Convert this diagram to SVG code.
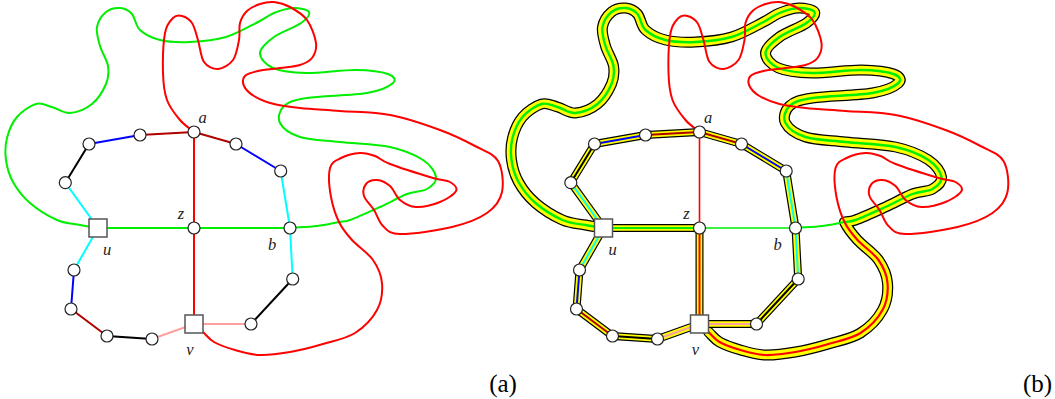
<svg xmlns="http://www.w3.org/2000/svg" xmlns:xlink="http://www.w3.org/1999/xlink" width="1055" height="399" viewBox="0 0 1055 399">
<style>
.ln{fill:none;stroke-width:2;stroke-linecap:round;stroke-linejoin:round}
.g{stroke:#00ee00}.r{stroke:#ff0000}.dr{stroke:#b00000}.bl{stroke:#0000ff}.cy{stroke:#00ffff}.k{stroke:#000}.pk{stroke:#ffa0a0}
.bo{fill:none;stroke:#000;stroke-linejoin:round;stroke-linecap:round}
.by{fill:none;stroke:#ffff00;stroke-linejoin:round;stroke-linecap:round}
.c{fill:#fff;stroke:#222;stroke-width:1.2}
.sq{fill:#fff;stroke:#555;stroke-width:1.5}
.lbl{font-family:"Liberation Serif",serif;font-style:italic;font-size:16.5px;fill:#222;text-anchor:middle}
.cap{font-family:"Liberation Serif",serif;font-size:25px;fill:#000;text-anchor:middle}
</style>
<defs>
<path id="gA" d="M98,228 C92,227 86.8,226.3 80,225 S65.3,223.7 57,220 S37.3,209.3 30,203 S17,189.2 13,182 S7,167.3 6,160 S5.2,145.2 7,138 S12.2,122.7 17,117 S30.2,105.7 36,104 S46.3,105.5 52,107 S63.3,113.5 70,113 S86,108.8 92,104 S103.3,90.3 106,84 S109,72.3 108,66 S101.8,52.5 100,46 S96,32.7 97,27 S102.2,15.2 106,12 S115.7,7.7 120,8 S128.7,10.3 132,14 S135.3,25.7 140,30 S151.7,38 160,40 S179,42.5 190,42 S214.7,40.3 226,37 S250,26 258,22 S268.2,15.3 274,13 S287.2,8.2 293,8 S307.7,9.5 309,12 S306.8,18.8 301,23 S280.8,32 274,37 S260.2,47.8 260,53 S265.3,64.7 273,68 S292.2,72.7 306,73 S342.3,69.8 356,70 S381.8,71.8 388,74 S396.5,79.8 393,83 S381.3,90.5 367,93 S320.8,95.8 307,98 S288.5,101.8 284,106 S277.3,117.8 280,123 S290,133.8 300,137 S325,140.3 340,142 S376.2,144 390,147 S415.3,155 423,160 S435.3,172.2 436,177 S431.8,186.2 427,189 S414.8,191 407,194 S389.5,202.7 380,207 S357,217.5 350,220 S343.5,221 339,222"/>
<path id="gB" d="M339,222 C334.5,223 325,225 317,226 S299,227.3 290,228"/>
<path id="rA" d="M194,132 C189.3,128 184.5,125.3 180,120 S169.8,107.8 167,100 S163.3,84.2 163,73 S163.3,42.2 165,33 S170.2,20.8 173,18 S178.8,15.2 182,16 S189.3,19 192,23 S196,33.5 198,40 S200.7,57.2 204,62 S213.2,69.3 218,69 S229.5,64.8 233,60 S237.8,46.2 239,40 S238.7,27.8 240,23 S243.7,14.2 247,11 S255.5,5.5 260,4 S269,1.5 274,2 S284.5,4 290,7 S302.7,14 307,20 S315.2,36.7 316,43 S314.7,54.3 312,58 S305.3,63.3 300,65 S287,67 280,68 S263.8,69.7 258,71 S247.3,73.5 245,76 S242.5,82.7 244,86 S249,93 254,96 S266.3,102 274,104 S289,106.8 300,108 S325,109.8 340,111 S373.3,111.8 390,115 S425.8,124.8 440,130 S465.3,140.8 475,146 S493.5,153.3 498,161 S503.8,183.3 502,192 S495.3,207.2 487,213 S466.5,223.5 452,227 S411.5,234.2 400,234 S387.3,230 383,226 S377.2,215 374,210 S365.3,200.3 364,196 S363.8,186.7 366,184 S373,179.7 377,180 S386.2,182.7 390,186 S395.7,196.5 400,200 S409.3,206.7 416,207 S433.3,204.7 440,202 S454.3,194.3 456,191 S453.8,184.2 450,182 S443,181 433,178 S399.7,167.7 390,164 S380,157.8 375,156 S365.7,152.7 360,153 S346,155.5 341,158 S331.7,161.5 330,168 S329.3,187.8 331,197 S335.5,214.8 339,222"/>
<path id="rB" d="M339,222 C342.5,229.2 346.3,233.7 352,240 S368,252.8 373,260 S381.3,274.7 382,283 S381.5,301.7 377,310 S364,327.3 355,333 S333.8,340.8 323,344 S300.5,350.2 290,352 S269.2,355.3 260,355 S242.7,352.2 235,350 S219.3,345 214,342 S206.7,335.3 203,332"/>
<path id="band" d="M98,228 C92,227 86.8,226.3 80,225 S65.3,223.7 57,220 S37.3,209.3 30,203 S17,189.2 13,182 S7,167.3 6,160 S5.2,145.2 7,138 S12.2,122.7 17,117 S30.2,105.7 36,104 S46.3,105.5 52,107 S63.3,113.5 70,113 S86,108.8 92,104 S103.3,90.3 106,84 S109,72.3 108,66 S101.8,52.5 100,46 S96,32.7 97,27 S102.2,15.2 106,12 S115.7,7.7 120,8 S128.7,10.3 132,14 S135.3,25.7 140,30 S151.7,38 160,40 S179,42.5 190,42 S214.7,40.3 226,37 S250,26 258,22 S268.2,15.3 274,13 S287.2,8.2 293,8 S307.7,9.5 309,12 S306.8,18.8 301,23 S280.8,32 274,37 S260.2,47.8 260,53 S265.3,64.7 273,68 S292.2,72.7 306,73 S342.3,69.8 356,70 S381.8,71.8 388,74 S396.5,79.8 393,83 S381.3,90.5 367,93 S320.8,95.8 307,98 S288.5,101.8 284,106 S277.3,117.8 280,123 S290,133.8 300,137 S325,140.3 340,142 S376.2,144 390,147 S415.3,155 423,160 S435.3,172.2 436,177 S431.8,186.2 427,189 S414.8,191 407,194 S389.5,202.7 380,207 S357,217.5 350,220 S343.5,221 339,222 C342.5,229.2 346.3,233.7 352,240 S368,252.8 373,260 S381.3,274.7 382,283 S381.5,301.7 377,310 S364,327.3 355,333 S333.8,340.8 323,344 S300.5,350.2 290,352 S269.2,355.3 260,355 S242.7,352.2 235,350 S219.3,345 214,342 S206.7,335.3 203,332"/>
<path id="cyc" d="M98,228 L65.3,182.7 L89,144 L140,135 L194,132 L236,144 L280.7,171 L290,228 L292.7,279 L251,324 L194,324 L152,339 L107,336 L71,309 L74,270 Z M98,228 L194,228 L194,324"/>
</defs>

<!-- ===== Panel (a) ===== -->
<g id="panel-a">
  <g id="a-connectors">
    <use xlink:href="#gA" class="ln g"/>
    <use xlink:href="#gB" class="ln g"/>
    <use xlink:href="#rA" class="ln r"/>
    <use xlink:href="#rB" class="ln r"/>
    <line class="ln g" x1="98" y1="228" x2="290" y2="228"/>
    <line class="ln r" x1="194" y1="132" x2="194" y2="324"/>
    <line class="ln k" x1="65.3" y1="182.7" x2="89" y2="144"/>
    <line class="ln bl" x1="89" y1="144" x2="140" y2="135"/>
    <line class="ln dr" x1="140" y1="135" x2="194" y2="132"/>
    <line class="ln dr" x1="194" y1="132" x2="236" y2="144"/>
    <line class="ln bl" x1="236" y1="144" x2="280.7" y2="171"/>
    <line class="ln cy" x1="280.7" y1="171" x2="290" y2="228"/>
    <line class="ln cy" x1="290" y1="228" x2="292.7" y2="279"/>
    <line class="ln k" x1="292.7" y1="279" x2="251" y2="324"/>
    <line class="ln pk" x1="251" y1="324" x2="194" y2="324"/>
    <line class="ln pk" x1="194" y1="324" x2="152" y2="339"/>
    <line class="ln k" x1="152" y1="339" x2="107" y2="336"/>
    <line class="ln dr" x1="107" y1="336" x2="71" y2="309"/>
    <line class="ln bl" x1="71" y1="309" x2="74" y2="270"/>
    <line class="ln cy" x1="74" y1="270" x2="98" y2="228"/>
    <line class="ln cy" x1="98" y1="228" x2="65.3" y2="182.7"/>
  </g>
  <g id="a-n1"><circle class="c" cx="140" cy="135" r="6"/></g>
  <g id="a-n2"><circle class="c" cx="89" cy="144" r="6"/></g>
  <g id="a-n3"><circle class="c" cx="65.3" cy="182.7" r="6"/></g>
  <g id="a-n4"><circle class="c" cx="236" cy="144" r="6"/></g>
  <g id="a-n5"><circle class="c" cx="280.7" cy="171" r="6"/></g>
  <g id="a-n6"><circle class="c" cx="292.7" cy="279" r="6"/></g>
  <g id="a-n7"><circle class="c" cx="251" cy="324" r="6"/></g>
  <g id="a-n8"><circle class="c" cx="152" cy="339" r="6"/></g>
  <g id="a-n9"><circle class="c" cx="107" cy="336" r="6"/></g>
  <g id="a-n10"><circle class="c" cx="71" cy="309" r="6"/></g>
  <g id="a-n11"><circle class="c" cx="74" cy="270" r="6"/></g>
  <g id="a-a"><circle class="c" cx="194" cy="132" r="6"/><text class="lbl" x="202.5" y="123">a</text></g>
  <g id="a-z"><circle class="c" cx="194" cy="228" r="6"/><text class="lbl" x="181" y="219">z</text></g>
  <g id="a-b"><circle class="c" cx="290" cy="228" r="6"/><text class="lbl" x="272" y="249.5">b</text></g>
  <g id="a-u"><rect class="sq" x="89" y="219" width="18" height="18"/><text class="lbl" x="107" y="255">u</text></g>
  <g id="a-v"><rect class="sq" x="185" y="315" width="18" height="18"/><text class="lbl" x="190" y="354.5">v</text></g>
  <text class="cap" x="503" y="392">(a)</text>
</g>

<!-- ===== Panel (b) ===== -->
<g id="panel-b" transform="translate(505.5,0)">
  <g id="b-connectors">
    <use xlink:href="#band" class="bo" style="stroke-width:11"/>
    <use xlink:href="#band" class="by" style="stroke-width:8.5"/>
    <use xlink:href="#cyc" class="bo" style="stroke-width:8"/>
    <use xlink:href="#cyc" class="by" style="stroke-width:5.6"/>
    <use xlink:href="#gA" class="ln g" style="stroke-width:2.4"/>
    <use xlink:href="#rB" class="ln r" style="stroke-width:2.2"/>
    <use xlink:href="#gB" class="ln g"/>
    <use xlink:href="#rA" class="ln r"/>
    <line class="ln g" x1="194" y1="228" x2="290" y2="228" style="stroke-width:1.6"/>
    <line class="ln r" x1="194" y1="132" x2="194" y2="228" style="stroke-width:1.6"/>
    <line class="ln g" x1="98" y1="228" x2="194" y2="228"/>
    <line class="ln r" x1="194" y1="228" x2="194" y2="324"/>
    <line class="ln k" x1="65.3" y1="182.7" x2="89" y2="144"/>
    <line class="ln bl" x1="89" y1="144" x2="140" y2="135"/>
    <line class="ln dr" x1="140" y1="135" x2="194" y2="132"/>
    <line class="ln dr" x1="194" y1="132" x2="236" y2="144"/>
    <line class="ln bl" x1="236" y1="144" x2="280.7" y2="171"/>
    <line class="ln cy" x1="280.7" y1="171" x2="290" y2="228"/>
    <line class="ln cy" x1="290" y1="228" x2="292.7" y2="279"/>
    <line class="ln k" x1="292.7" y1="279" x2="251" y2="324"/>
    <line class="ln pk" x1="251" y1="324" x2="194" y2="324"/>
    <line class="ln pk" x1="194" y1="324" x2="152" y2="339"/>
    <line class="ln k" x1="152" y1="339" x2="107" y2="336"/>
    <line class="ln dr" x1="107" y1="336" x2="71" y2="309"/>
    <line class="ln bl" x1="71" y1="309" x2="74" y2="270"/>
    <line class="ln cy" x1="74" y1="270" x2="98" y2="228"/>
    <line class="ln cy" x1="98" y1="228" x2="65.3" y2="182.7"/>
  </g>
  <g id="b-n1"><circle class="c" cx="140" cy="135" r="6"/></g>
  <g id="b-n2"><circle class="c" cx="89" cy="144" r="6"/></g>
  <g id="b-n3"><circle class="c" cx="65.3" cy="182.7" r="6"/></g>
  <g id="b-n4"><circle class="c" cx="236" cy="144" r="6"/></g>
  <g id="b-n5"><circle class="c" cx="280.7" cy="171" r="6"/></g>
  <g id="b-n6"><circle class="c" cx="292.7" cy="279" r="6"/></g>
  <g id="b-n7"><circle class="c" cx="251" cy="324" r="6"/></g>
  <g id="b-n8"><circle class="c" cx="152" cy="339" r="6"/></g>
  <g id="b-n9"><circle class="c" cx="107" cy="336" r="6"/></g>
  <g id="b-n10"><circle class="c" cx="71" cy="309" r="6"/></g>
  <g id="b-n11"><circle class="c" cx="74" cy="270" r="6"/></g>
  <g id="b-a"><circle class="c" cx="194" cy="132" r="6"/><text class="lbl" x="202.5" y="123">a</text></g>
  <g id="b-z"><circle class="c" cx="194" cy="228" r="6"/><text class="lbl" x="181" y="219">z</text></g>
  <g id="b-b"><circle class="c" cx="290" cy="228" r="6"/><text class="lbl" x="272" y="249.5">b</text></g>
  <g id="b-u"><rect class="sq" x="89" y="219" width="18" height="18"/><text class="lbl" x="107" y="255">u</text></g>
  <g id="b-v"><rect class="sq" x="185" y="315" width="18" height="18"/><text class="lbl" x="190" y="354.5">v</text></g>
  <text class="cap" x="532" y="392">(b)</text>
</g>
</svg>
